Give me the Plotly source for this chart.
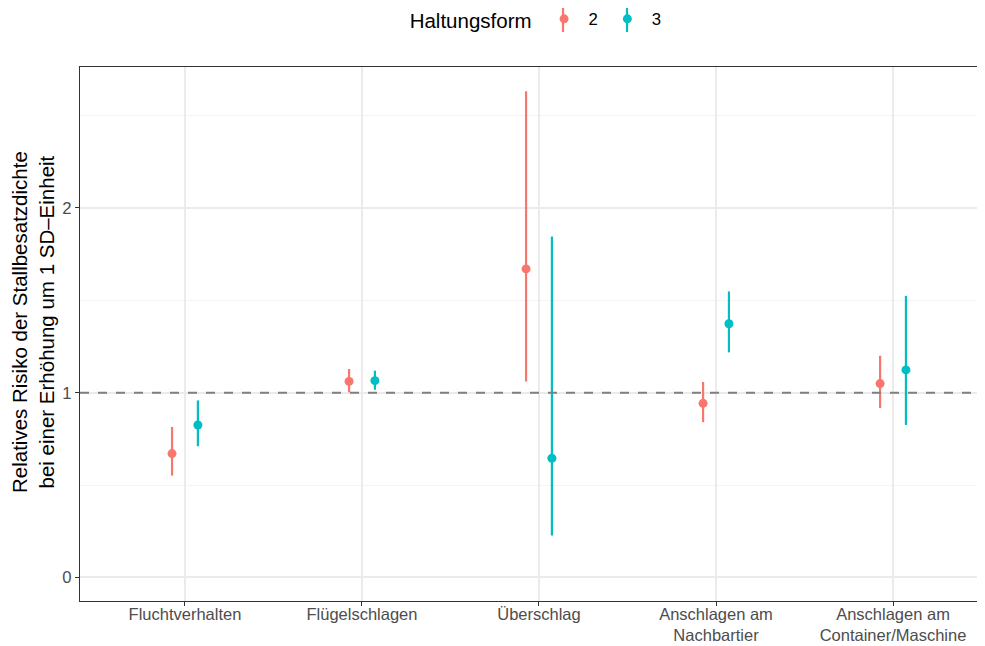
import plotly.graph_objects as go

# ---- data ----
categories = ["Fluchtverhalten", "Flügelschlagen", "Überschlag",
              "Anschlagen am<br>Nachbartier", "Anschlagen am<br>Container/Maschine"]
groups = ["2", "3"]
est_2 = [0.670, 1.061, 1.670, 0.942, 1.049]
low_2 = [0.551, 1.002, 1.061, 0.840, 0.917]
high_2 = [0.814, 1.128, 2.632, 1.058, 1.200]
est_3 = [0.825, 1.065, 0.645, 1.373, 1.123]
low_3 = [0.710, 1.016, 0.227, 1.218, 0.825]
high_3 = [0.958, 1.119, 1.845, 1.548, 1.524]
y_ticks = [0, 1, 2]
ref_value = 1

colors = {"2": "#F8766D", "3": "#00BFC4"}
dodge = {"2": -0.073, "3": 0.073}
series = {"2": (est_2, low_2, high_2), "3": (est_3, low_3, high_3)}

FONT = "Liberation Sans, Arial, Helvetica, sans-serif"

fig = go.Figure()
for g in groups:
    est, lo, hi = series[g]
    xs = [i + dodge[g] for i in range(len(categories))]
    fig.add_trace(go.Scatter(
        x=xs, y=est, mode="markers", name=g,
        marker=dict(color=colors[g], size=9),
        error_y=dict(type="data", symmetric=False,
                     array=[h - e for h, e in zip(hi, est)],
                     arrayminus=[e - l for e, l in zip(est, lo)],
                     color=colors[g], thickness=2.2, width=0),
    ))

fig.add_hline(y=ref_value, line=dict(color="#7f7f7f", width=2, dash="dash"), layer="above")

# vertical interval strokes in the legend keys (like ggplot's pointrange key)
legend_key_x = {"2": (563 - 80) / 904, "3": (627 - 80) / 904}
for g in groups:
    fig.add_shape(type="line", xref="paper", yref="paper",
                  x0=legend_key_x[g], x1=legend_key_x[g],
                  y0=(601 - 6) / 534, y1=(601 - 32) / 534,
                  line=dict(color=colors[g], width=2.2), layer="below")

fig.update_layout(
    width=977, height=638,
    margin=dict(l=72, r=1, t=59, b=45, autoexpand=False),
    paper_bgcolor="white", plot_bgcolor="white",
    font=dict(family=FONT, size=16.7, color="#4d4d4d"),
    showlegend=True,
    legend=dict(orientation="h", x=0.5057, xanchor="center", y=1.088, yanchor="middle",
                title=dict(text="Haltungsform", font=dict(size=20.5, color="black"), side="left"),
                font=dict(size=16.7, color="black"), bgcolor="rgba(0,0,0,0)",
                itemwidth=39),
    xaxis=dict(
        range=[-0.593, 4.514], tickmode="array",
        tickvals=list(range(len(categories))), ticktext=categories,
        showgrid=True, gridcolor="#ebebeb", gridwidth=1.5, automargin=False,
        zeroline=False, showline=True, mirror=True, linecolor="#333333", linewidth=1.2,
        ticks="outside", ticklen=4, tickcolor="#333333", tickwidth=1.2,
        ticklabelstandoff=-6,
        tickfont=dict(size=16.5, color="#4d4d4d"),
    ),
    yaxis=dict(
        range=[-0.128, 2.763], tickmode="array", tickvals=y_ticks,
        ticktext=[str(v) for v in y_ticks], automargin=False,
        showgrid=True, gridcolor="#ebebeb", gridwidth=1.5,
        minor=dict(tickmode="array", tickvals=[0.5, 1.5, 2.5], showgrid=True,
                   gridcolor="#f3f3f3", gridwidth=1, ticks=""),
        zeroline=False, showline=True, mirror=True, linecolor="#333333", linewidth=1.2,
        ticks="outside", ticklen=4, tickcolor="#333333", tickwidth=1.2,
        tickfont=dict(size=16.7, color="#4d4d4d"),
    ),
)

fig.add_annotation(
    text="Relatives Risiko der Stallbesatzdichte<br>bei einer Erhöhung um 1 SD–Einheit",
    xref="paper", yref="paper", x=-(80 - 33) / 904, y=(601 - 322) / 534,
    xanchor="center", yanchor="middle", textangle=-90, showarrow=False,
    font=dict(size=20.5, color="black", family=FONT),
)

fig.write_html("out.html")
